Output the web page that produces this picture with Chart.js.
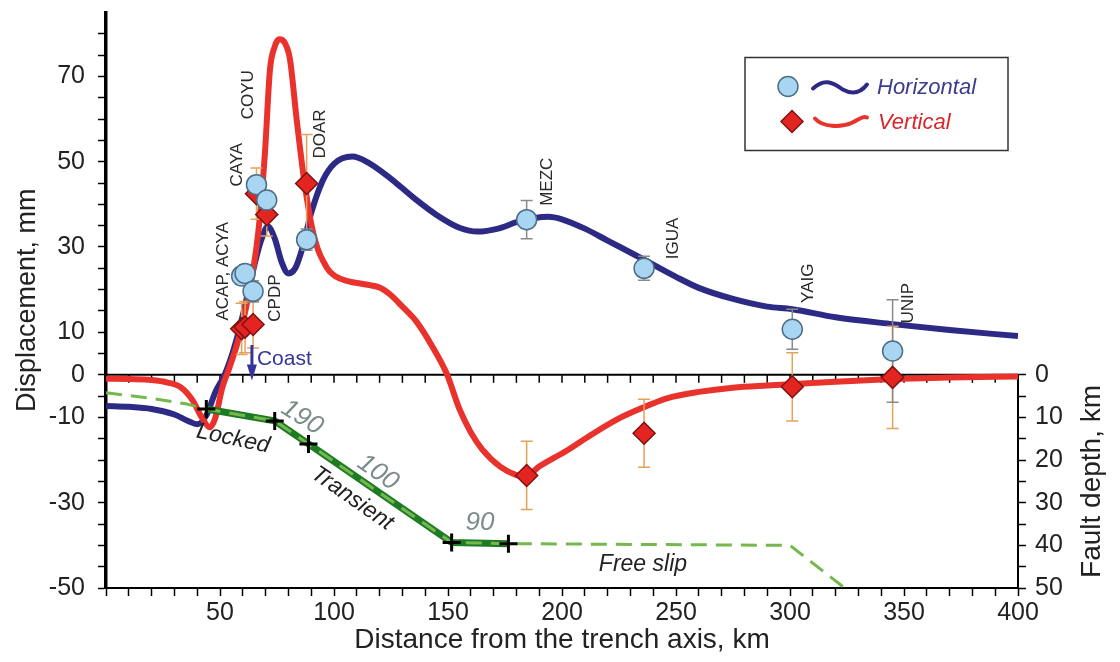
<!DOCTYPE html>
<html>
<head>
<meta charset="utf-8">
<title>Displacement vs distance from trench</title>
<script src="https://cdn.jsdelivr.net/npm/chart.js@4.4.1/dist/chart.umd.min.js"></script>
<style>
  html, body { margin: 0; padding: 0; background: #fff; }
  canvas { display: block; }
</style>
</head>
<body>
<canvas id="chart" width="1120" height="662"></canvas>
<script>
/* ── model curves (km, mm) ── */
const horizKm = [0, 10, 20, 30, 36, 40, 44, 48, 52, 56, 60, 64.5, 68, 71, 74, 77, 80, 83, 86, 90, 95, 100, 108, 115, 125, 135, 145, 155, 163, 172, 180, 188, 194, 200, 210, 220, 235, 250, 260, 275, 290, 301, 320, 345, 370, 400];
const horizMm = [-7.3, -7.5, -8, -9.3, -10.8, -11.6, -9.5, -4, 0, 6, 14, 24.5, 31.5, 34.8, 32, 26.5, 23.8, 25, 29.5, 38, 45.5, 49.5, 51.2, 49.8, 46, 41.5, 37.5, 34.5, 33.6, 34.3, 35.8, 36.8, 37.1, 36.5, 34.3, 31.5, 27.3, 23, 20.4, 17.8, 16, 15.4, 13.5, 11.9, 10.5, 9.1];

const vertKm = [0, 10, 20, 27, 33, 38, 42, 45.5, 48, 51, 54, 57.5, 62, 66.7, 69.7, 71.9, 74, 76, 78.5, 80.7, 83.6, 87, 91, 97, 101, 106, 114, 120, 124.5, 130, 136, 143.5, 149.5, 155, 160, 165, 173, 180, 184, 190, 202, 213, 224, 235, 246, 260, 275, 290, 301, 320, 345, 370, 400];
const vertMm = [-0.9, -1, -1.2, -1.8, -3, -6, -10, -12.3, -10, -3, 1.5, 7.2, 17.3, 33, 52, 71.5, 77, 78.7, 77.8, 74, 60, 45.3, 33, 25, 23, 22, 21.2, 20.5, 18.9, 16, 12.6, 6.3, 0.2, -8, -13.5, -17.5, -21.6, -23.5, -23.8, -21.5, -17.8, -14, -10.5, -7.8, -5.5, -4, -3, -2.5, -2.2, -1.6, -1, -0.6, -0.4];

/* ── fault geometry (km, depth km) ── */
const faultKm = [0, 20, 35, 44, 74, 88.8, 151.6, 176.5, 300, 324];
const faultDepth = [4.2, 5.5, 6.8, 8, 10.8, 16.2, 39.3, 39.6, 40, 50];
const transientKm = [44, 74, 88.8, 151.6, 176.5];
const transientDepth = [8, 10.8, 16.2, 39.3, 39.6];

/* ── GPS stations ── */
const stationKm = [59.5, 61, 64.5, 66, 70.5, 88, 184.5, 236, 301, 345];
const horizObs  = [23.2, 23.8, 19.6, 44.6, 41, 31.7, 36.4, 25, 10.7, 5.6];
const horizErr  = [2, 2, 2.5, 2, 2, 2.5, 4.5, 2.8, 4.7, 12];
const vertObs   = [10.8, 11.2, 11.8, 42.5, 37.6, 44.9, -23.6, -13.7, -2.8, -0.6];
const vertErr   = [6, 6, 5.5, 6, 5, 11.5, 8, 8, 8, 12];

const stationLabels  = ['ACAP, ACYA', 'CPDP', 'CAYA', 'COYU', 'DOAR', 'MEZC', 'IGUA', 'YAIG', 'UNIP'];
const stationLabelKm = [51.3, 74.1, 57.5, 62.3, 93.9, 193.4, 248.7, 307.9, 351.8];
const stationLabelMm = [24.3, 18, 49.3, 65.7, 56.5, 45.3, 32, 21.5, 16.8];

const notes      = ['Locked', '190', '100', 'Transient', '90', 'Free slip'];
const noteKm     = [55.7, 86, 119.3, 108, 164, 235.5];
const noteMm     = [-15, -10, -22.9, -29, -34.8, -44.6];
const noteAngle  = [12, 32, 35, 35, 0, 0];

const coastKm = 64;

/* ── ticks ── */
const xTicks = [0, 10, 20, 30, 40, 50, 60, 70, 80, 90, 100, 110, 120, 130, 140, 150, 160, 170, 180, 190, 200, 210, 220, 230, 240, 250, 260, 270, 280, 290, 300, 310, 320, 330, 340, 350, 360, 370, 380, 390, 400];
const xTickLabels = [50, 100, 150, 200, 250, 300, 350, 400];
const yTicks = [-50, -45, -40, -35, -30, -25, -20, -15, -10, -5, 0, 5, 10, 15, 20, 25, 30, 35, 40, 45, 50, 55, 60, 65, 70, 75, 80];
const yTickLabels = [-50, -30, -10, 0, 10, 30, 50, 70];
const depthTicks = [0, 5, 10, 15, 20, 25, 30, 35, 40, 45, 50];
const depthTickLabels = [0, 10, 20, 30, 40, 50];

const BLUE = '#2d2a86';
const RED = '#e8322b';
const DKGREEN = '#1e7b24';
const LTGREEN = '#74b84e';
const FONT = '"Liberation Sans", Arial, sans-serif';

const pts = (xs, ys) => xs.map((x, i) => ({ x, y: ys[i] }));

/* ══════════════════════════════════════════
   overlay: zero line, errors, labels, legend
══════════════════════════════════════════ */
function wave(ctx, x0, x1, y, amp, color, shape) {
  ctx.strokeStyle = color;
  ctx.lineWidth = 4;
  ctx.lineCap = 'round';
  ctx.beginPath();
  const w = x1 - x0;
  if (shape === 'tilde') {
    ctx.moveTo(x0, y + 2);
    ctx.bezierCurveTo(x0 + w * 0.2, y - amp * 1.6, x0 + w * 0.35, y - amp, x0 + w * 0.55, y + amp * 0.6);
    ctx.bezierCurveTo(x0 + w * 0.75, y + amp * 1.8, x0 + w * 0.9, y + amp, x1, y - amp * 0.4);
  } else {
    ctx.moveTo(x0, y - amp * 0.6);
    ctx.bezierCurveTo(x0 + w * 0.15, y + amp * 1.2, x0 + w * 0.5, y + amp * 1.2, x0 + w * 0.7, y + amp * 0.3);
    ctx.bezierCurveTo(x0 + w * 0.85, y - amp * 0.4, x0 + w * 0.92, y - amp * 1.2, x1, y - amp * 0.8);
  }
  ctx.stroke();
}

const overlay = {
  id: 'overlay',
  beforeDatasetsDraw(chart) {
    const { ctx, chartArea: a, scales: { x, y, y2 } } = chart;
    const y0 = y.getPixelForValue(0);
    ctx.save();
    ctx.strokeStyle = '#000';
    ctx.lineWidth = 2;
    ctx.beginPath(); ctx.moveTo(a.left, y0); ctx.lineTo(a.right, y0); ctx.stroke();
    ctx.lineWidth = 1.5;
    xTicks.forEach(v => {
      const px = x.getPixelForValue(v);
      ctx.beginPath(); ctx.moveTo(px, y0); ctx.lineTo(px, y0 + 8); ctx.stroke();
    });
    ctx.lineWidth = 2;
    ctx.beginPath();
    ctx.moveTo(a.right, y2.getPixelForValue(0));
    ctx.lineTo(a.right, y2.getPixelForValue(50));
    ctx.stroke();
    ctx.restore();
  },
  afterDatasetDraw(chart, args) {
    if (args.meta.label !== 'knots') return;
    const { ctx, scales: { x, y } } = chart;
    ctx.save();
    ctx.lineWidth = 1.5;
    const bar = (km, v, e, color) => {
      const px = x.getPixelForValue(km);
      const top = y.getPixelForValue(v + e), bot = y.getPixelForValue(v - e);
      ctx.strokeStyle = color;
      ctx.beginPath();
      ctx.moveTo(px, top); ctx.lineTo(px, bot);
      ctx.moveTo(px - 6, top); ctx.lineTo(px + 6, top);
      ctx.moveTo(px - 6, bot); ctx.lineTo(px + 6, bot);
      ctx.stroke();
    };
    stationKm.forEach((km, i) => bar(km, vertObs[i], vertErr[i], '#e6a15a'));
    stationKm.forEach((km, i) => bar(km, horizObs[i], horizErr[i], '#8a8a8a'));
    ctx.restore();
  },
  afterDraw(chart) {
    const { ctx, chartArea: a, scales: { x, y, y2 } } = chart;
    ctx.save();

    // station names
    ctx.fillStyle = '#2a2a2a';
    ctx.font = '17px ' + FONT;
    ctx.textAlign = 'center';
    ctx.textBaseline = 'middle';
    stationLabels.forEach((s, i) => {
      ctx.save();
      ctx.translate(x.getPixelForValue(stationLabelKm[i]), y.getPixelForValue(stationLabelMm[i]));
      ctx.rotate(-Math.PI / 2);
      ctx.fillText(s, 0, 0);
      ctx.restore();
    });

    // fault annotations
    notes.forEach((s, i) => {
      const isNum = /^\d+$/.test(s);
      ctx.save();
      ctx.translate(x.getPixelForValue(noteKm[i]), y.getPixelForValue(noteMm[i]));
      ctx.rotate(noteAngle[i] * Math.PI / 180);
      ctx.fillStyle = isNum ? '#7d8b8b' : '#222';
      ctx.font = (isNum ? 'italic 26px ' : 'italic 23px ') + FONT;
      ctx.fillText(s, 0, 0);
      ctx.restore();
    });

    // coast arrow
    const cx = x.getPixelForValue(coastKm);
    const cTop = y.getPixelForValue(7), cTip = y.getPixelForValue(-1.3);
    ctx.strokeStyle = '#35349a';
    ctx.fillStyle = '#35349a';
    ctx.lineWidth = 3;
    ctx.beginPath(); ctx.moveTo(cx, cTop); ctx.lineTo(cx, cTip - 10); ctx.stroke();
    ctx.beginPath();
    ctx.moveTo(cx - 5, cTip - 16); ctx.lineTo(cx + 5, cTip - 16); ctx.lineTo(cx, cTip);
    ctx.closePath(); ctx.fill();
    ctx.font = '21px ' + FONT;
    ctx.textAlign = 'left';
    ctx.fillText('Coast', cx + 5, y.getPixelForValue(3.7));

    // right axis title
    ctx.save();
    ctx.translate(1092, (y2.getPixelForValue(0) + y2.getPixelForValue(50)) / 2);
    ctx.rotate(-Math.PI / 2);
    ctx.textAlign = 'center';
    ctx.fillStyle = '#222';
    ctx.font = '28px ' + FONT;
    ctx.fillText('Fault depth, km', 0, 0);
    ctx.restore();

    // legend box
    const lx = a.right - 273, ly = a.top + 45, lw = 263, lh = 93;
    ctx.fillStyle = '#fff';
    ctx.fillRect(lx, ly, lw, lh);
    ctx.strokeStyle = '#333';
    ctx.lineWidth = 1.5;
    ctx.strokeRect(lx, ly, lw, lh);

    const r1 = ly + 29, r2 = ly + 64;
    ctx.beginPath(); ctx.arc(lx + 43, r1, 10, 0, Math.PI * 2);
    ctx.fillStyle = '#a8d5f2'; ctx.fill();
    ctx.strokeStyle = '#4d6e86'; ctx.lineWidth = 1.5; ctx.stroke();
    wave(ctx, lx + 68, lx + 122, r1, 5, BLUE, 'tilde');

    ctx.beginPath();
    ctx.moveTo(lx + 47, r2 - 11); ctx.lineTo(lx + 58, r2); ctx.lineTo(lx + 47, r2 + 11); ctx.lineTo(lx + 36, r2);
    ctx.closePath();
    ctx.fillStyle = '#e42420'; ctx.fill();
    ctx.strokeStyle = '#7d1212'; ctx.lineWidth = 1.5; ctx.stroke();
    wave(ctx, lx + 70, lx + 122, r2, 5, RED, 'smile');

    ctx.font = 'italic 22px ' + FONT;
    ctx.textAlign = 'left';
    ctx.fillStyle = '#3b3b8f';
    ctx.fillText('Horizontal', lx + 132, r1 + 1);
    ctx.fillStyle = '#d9262b';
    ctx.fillText('Vertical', lx + 133, r2 + 1);

    ctx.restore();
  }
};

/* ══════════════════════════════════════════
   chart
══════════════════════════════════════════ */
const tickFont = { family: FONT, size: 25 };

new Chart(document.getElementById('chart'), {
  type: 'scatter',
  data: {
    datasets: [
      { label: 'Horizontal obs', data: pts(stationKm, horizObs), order: 1,
        pointStyle: 'circle', pointRadius: 10, backgroundColor: '#a8d5f2', borderColor: '#4d6e86', borderWidth: 1.5 },
      { label: 'Vertical obs', data: pts(stationKm, vertObs), order: 2,
        pointStyle: 'rectRot', pointRadius: 11, backgroundColor: '#e42420', borderColor: '#7d1212', borderWidth: 1.5 },
      { label: 'knots', data: pts(transientKm, transientDepth), yAxisID: 'y2', order: 3,
        pointStyle: 'cross', pointRadius: 9, borderColor: '#000', borderWidth: 3 },
      { label: 'Fault', data: pts(faultKm, faultDepth), yAxisID: 'y2', order: 4, showLine: true,
        pointRadius: 0, borderColor: LTGREEN, borderWidth: 3, borderDash: [16, 9] },
      { label: 'Transient', data: pts(transientKm, transientDepth), yAxisID: 'y2', order: 5, showLine: true,
        pointRadius: 0, borderColor: DKGREEN, borderWidth: 7, borderJoinStyle: 'round' },
      { label: 'Vertical', data: pts(vertKm, vertMm), order: 6, showLine: true,
        pointRadius: 0, borderColor: RED, borderWidth: 6, cubicInterpolationMode: 'monotone' },
      { label: 'Horizontal', data: pts(horizKm, horizMm), order: 7, showLine: true,
        pointRadius: 0, borderColor: BLUE, borderWidth: 6, cubicInterpolationMode: 'monotone' }
    ]
  },
  options: {
    responsive: false,
    animation: false,
    layout: { padding: { top: 9, left: 0, right: 0, bottom: 0 } },
    plugins: { legend: { display: false }, tooltip: { enabled: false } },
    scales: {
      x: {
        type: 'linear', min: 0, max: 400,
        afterBuildTicks: s => { s.ticks = xTicks.map(v => ({ value: v })); },
        afterFit: s => { s.height = 74; s.paddingLeft = 0; s.paddingRight = 0; },
        ticks: { autoSkip: false, maxRotation: 0, font: tickFont, color: '#222', padding: 2,
                 callback: v => xTickLabels.includes(v) ? String(v) : '' },
        grid: { drawOnChartArea: false, tickLength: 8, tickColor: '#000', tickWidth: 1.5 },
        border: { color: '#000', width: 2 },
        title: { display: true, text: 'Distance from the trench axis, km', color: '#222',
                 font: { family: FONT, size: 28 }, padding: { top: 0, bottom: 5 } }
      },
      y: {
        type: 'linear', min: -50, max: 85,
        afterBuildTicks: s => { s.ticks = yTicks.map(v => ({ value: v })); },
        afterFit: s => { s.width = 106; s.paddingTop = 0; s.paddingBottom = 0; },
        ticks: { autoSkip: false, font: tickFont, color: '#222', padding: 13,
                 callback: v => yTickLabels.includes(v) ? String(v) : '' },
        grid: { drawOnChartArea: false, tickLength: 8, tickColor: '#000', tickWidth: 1.5 },
        border: { color: '#000', width: 3.5 },
        title: { display: true, text: 'Displacement, mm', color: '#222',
                 font: { family: FONT, size: 27 }, padding: { top: 11, bottom: 0 } }
      },
      y2: {
        type: 'linear', position: 'right', reverse: true, min: -85, max: 50,
        afterBuildTicks: s => { s.ticks = depthTicks.map(v => ({ value: v })); },
        afterFit: s => { s.width = 102; s.paddingTop = 0; s.paddingBottom = 0; },
        ticks: { autoSkip: false, font: tickFont, color: '#222', padding: 9,
                 callback: v => depthTickLabels.includes(v) ? String(v) : '' },
        grid: { drawOnChartArea: false, tickLength: 8, tickColor: '#000', tickWidth: 1.5 },
        border: { display: false }
      }
    }
  },
  plugins: [overlay]
});
</script>
</body>
</html>
